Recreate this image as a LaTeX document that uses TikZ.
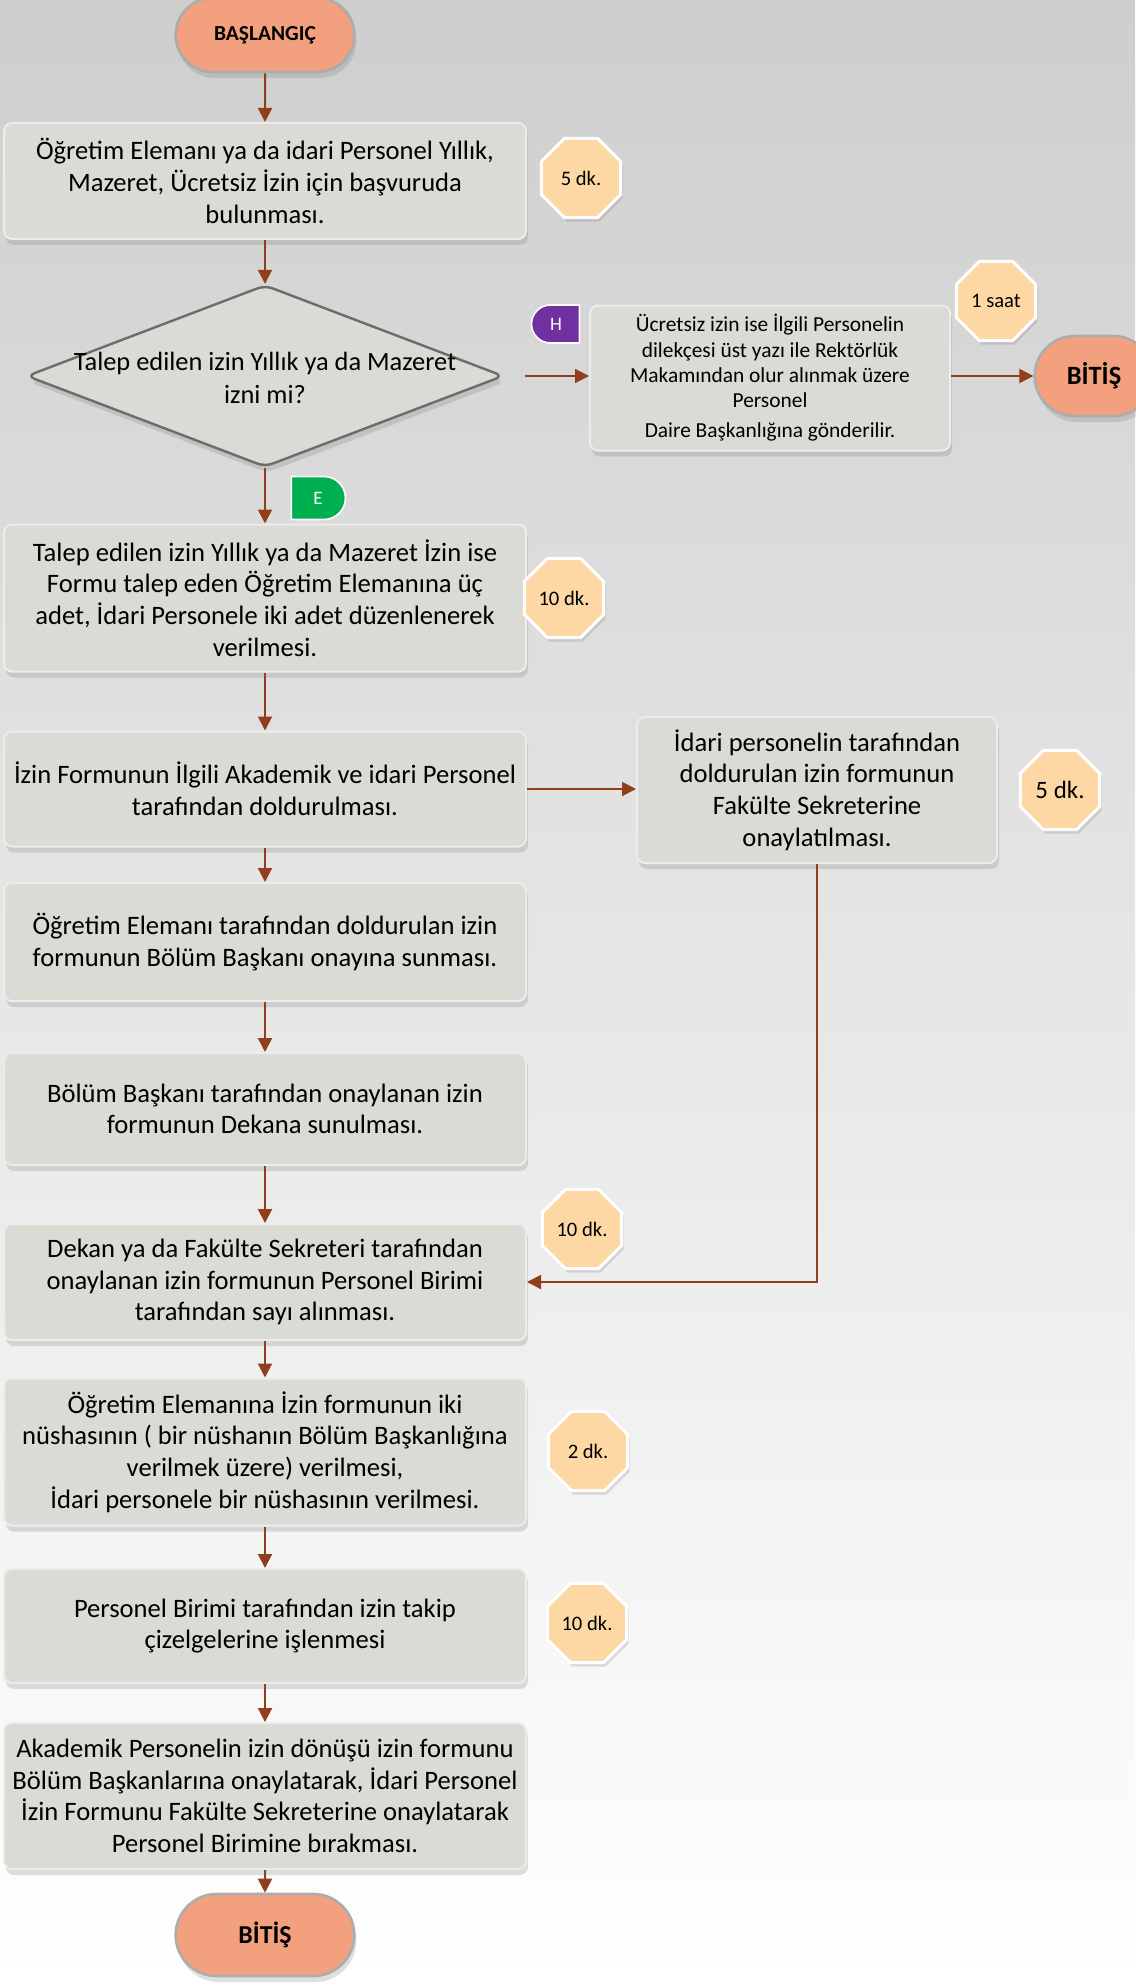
\documentclass[tikz,border=0pt]{standalone}
\usepackage{fontspec}
\setmainfont{Carlito}
\usetikzlibrary{shapes.geometric,shapes.misc,shadows,arrows.meta}

\definecolor{boxfill}{RGB}{217,219,212}
\definecolor{boxline}{RGB}{236,236,236}
\definecolor{pillfill}{RGB}{242,160,125}
\definecolor{timefill}{RGB}{254,216,164}
\definecolor{flowline}{RGB}{145,62,28}
\definecolor{tagpurple}{RGB}{112,48,160}
\definecolor{taggreen}{RGB}{0,176,80}
\definecolor{bgtop}{RGB}{206,206,206}

\begin{document}
\begin{tikzpicture}[x=0.5pt,y=0.5pt]
        % styles
        \tikzstyle{stepbox}=[rectangle, rounded corners=4pt, draw=boxline, line width=1pt, fill=boxfill, minimum width=261pt, inner sep=2pt, align=center, font=\fontsize{13.3}{15.8}\selectfont, drop shadow={shadow xshift=1pt, shadow yshift=-3pt, opacity=0.25}]
        \tikzstyle{sidebox}=[stepbox, minimum width=180pt]
        \tikzstyle{decision}=[diamond, rounded corners=4pt, draw=gray!85!black, line width=1.2pt, fill=boxfill, minimum width=238.5pt, minimum height=91pt, inner sep=0pt, font=\fontsize{13.2}{16.5}\selectfont, drop shadow={shadow xshift=1pt, shadow yshift=-3pt, opacity=0.25}]
        \tikzstyle{terminal}=[rounded rectangle, draw=gray!65, line width=1.3pt, fill=pillfill, minimum width=96pt, minimum height=37pt, font=\bfseries\fontsize{10.7}{12}\selectfont, drop shadow={shadow xshift=1pt, shadow yshift=-3pt, opacity=0.25}]
        \tikzstyle{timebox}=[regular polygon, regular polygon sides=8, minimum size=43pt, inner sep=0pt, draw=white, line width=1.5pt, fill=timefill, font=\fontsize{10.3}{12}\selectfont, drop shadow={shadow xshift=1pt, shadow yshift=-2pt, opacity=0.25}]
        \tikzstyle{flow}=[draw=flowline, line width=1pt, -{Triangle[length=7pt,width=7pt]}]

        % background
        \shade[top color=bgtop, bottom color=white] (0,0) rectangle (1135,-1985);
        \useasboundingbox (0,0) rectangle (1135,-1985);

        % main column
        \node[terminal] (start) at (265,-35) {BAŞLANGIÇ};
        \node[stepbox, minimum height=58pt] (apply) at (265,-181) {Öğretim Elemanı  ya da idari Personel Yıllık,\\ Mazeret, Ücretsiz İzin için başvuruda\\ bulunması.};
        \node[decision] (ask) at (265,-376) {\raisebox{-5pt}[0pt][0pt]{\makebox[0pt]{\begin{tabular}{@{}c@{}}Talep edilen izin Yıllık ya da Mazeret\\ izni mi?\end{tabular}}}};
        \node[stepbox, minimum height=73.5pt] (form) at (265,-598) {Talep edilen izin Yıllık ya da Mazeret İzin ise\\ Formu talep eden Öğretim Elemanına  üç\\ adet, İdari Personele iki adet  düzenlenerek\\ verilmesi.};
        \node[stepbox, minimum height=57.5pt] (fillin) at (265,-789) {İzin Formunun İlgili Akademik ve idari Personel\\ tarafından doldurulması.};
        \node[stepbox, minimum height=59pt] (submit) at (265,-942) {Öğretim Elemanı tarafından doldurulan izin\\ formunun Bölüm Başkanı onayına sunması.};
        \node[stepbox, minimum height=56pt] (approve) at (265,-1109) {Bölüm Başkanı tarafından onaylanan  izin\\ formunun Dekana sunulması.};
        \node[stepbox, minimum height=58pt] (number) at (265,-1282) {Dekan ya da Fakülte Sekreteri tarafından\\ onaylanan izin formunun Personel Birimi\\ tarafından sayı alınması.};
        \node[stepbox, minimum height=73.5pt] (copies) at (265,-1452) {Öğretim Elemanına İzin formunun iki\\ nüshasının ( bir nüshanın Bölüm Başkanlığına\\ verilmek üzere) verilmesi,\\ İdari personele bir nüshasının verilmesi.};
        \node[stepbox, minimum height=57pt] (record) at (265,-1626) {Personel Birimi tarafından izin takip\\ çizelgelerine işlenmesi};
        \node[stepbox, minimum height=73pt] (back) at (265,-1796) {Akademik Personelin izin dönüşü izin formunu\\ Bölüm Başkanlarına onaylatarak, İdari Personel\\ İzin Formunu Fakülte Sekreterine onaylatarak\\ Personel Birimine bırakması.};
        \node[terminal, minimum height=41pt, font=\bfseries\fontsize{12.9}{14}\selectfont] (finish) at (265,-1935) {BİTİŞ};

        % right branch
        \node[sidebox, minimum height=72.5pt, font=\fontsize{10.7}{12.65}\selectfont] (unpaid) at (770,-378) {Ücretsiz izin ise  İlgili Personelin\\ dilekçesi üst yazı ile Rektörlük\\ Makamından olur alınmak üzere\\ Personel\\[2.5pt] Daire Başkanlığına gönderilir.};
        \node[terminal, minimum width=66pt, minimum height=40pt, font=\bfseries\fontsize{13.2}{14}\selectfont] (stop) at (1094,-376) {BİTİŞ};
        \node[sidebox, minimum height=73pt] (staff) at (817,-790) {İdari personelin tarafından\\ doldurulan  izin formunun\\ Fakülte Sekreterine\\ onaylatılması.};

        % tags
        \node[rounded rectangle, rounded rectangle right arc=none, draw=white, line width=0.8pt, fill=tagpurple, text=white, minimum width=24pt, minimum height=19pt, inner sep=0pt, font=\fontsize{9.5}{10}\selectfont] (tagH) at (556,-324) {H};
        \node[rounded rectangle, rounded rectangle left arc=none, draw=white, line width=0.8pt, fill=taggreen, text=white, minimum width=27pt, minimum height=21.5pt, inner sep=0pt, font=\fontsize{9.5}{10}\selectfont] (tagE) at (318,-498) {E};

        % durations
        \node[timebox] (t1) at (581,-178) {5 dk.};
        \node[timebox] (t2) at (996,-301) {1 saat};
        \node[timebox] (t3) at (564,-598) {10 dk.};
        \node[timebox, font=\fontsize{12.5}{14}\selectfont] (t4) at (1060,-790) {5 dk.};
        \node[timebox] (t5) at (582,-1229) {10 dk.};
        \node[timebox] (t6) at (588,-1451) {2 dk.};
        \node[timebox] (t7) at (587,-1623) {10 dk.};

        % arrows
        \draw[flow] (start) -- (apply);
        \draw[flow] (apply) -- (ask);
        \draw[flow] (ask) -- (form);
        \draw[flow] (form) -- (fillin);
        \draw[flow] (fillin) -- (submit);
        \draw[flow] (submit) -- (approve);
        \draw[flow] (approve) -- (number);
        \draw[flow] (number) -- (copies);
        \draw[flow] (copies) -- (record);
        \draw[flow] (record) -- (back);
        \draw[flow] (back) -- (finish);
        \draw[flow, shorten <=10pt] (ask.east) -- (ask.east -| unpaid.west);
        \draw[flow] (unpaid.east |- stop.west) -- (stop.west);
        \draw[flow] (fillin.east) -- (fillin.east -| staff.west);
        \draw[flow] (staff.south) |- (number.east);
\end{tikzpicture}
\end{document}
